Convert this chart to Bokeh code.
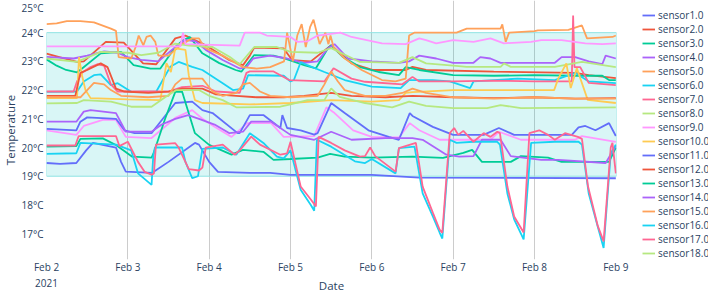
import math
from bokeh.plotting import figure
from bokeh.layouts import row
from bokeh.models import FixedTicker, Legend, LegendItem, Range1d
from bokeh.embed import file_html
from bokeh.resources import INLINE

# ---------------- data (hours since 2021-02-02 00:00, temperature in degC) -------------
SENSORS = ["sensor1.0", "sensor2.0", "sensor3.0", "sensor4.0", "sensor5.0", "sensor6.0",
           "sensor7.0", "sensor8.0", "sensor9.0", "sensor10.0", "sensor11.0", "sensor12.0",
           "sensor13.0", "sensor14.0", "sensor15.0", "sensor16.0", "sensor17.0", "sensor18.0"]

S1_H = [0, 4, 8.8, 11.7, 13.7, 20.5, 22, 23.4, 31.2, 36, 43.8, 45, 48, 50.6, 60, 66, 72, 96, 110, 168]
S1_T = [19.46, 19.43, 19.46, 19.9, 20.16, 20.0, 19.5, 19.16, 19.12, 19.5, 20.16, 20.1, 19.5, 19.15, 19.12, 19.12, 19.05, 19.05, 18.95, 18.93]

S2_H = [0, 9, 11, 17.5, 22.8, 28.5, 32.4, 38, 41, 47, 54, 58, 60, 61.3, 70, 72.5, 78, 84, 90, 96.4, 106, 108, 112, 132, 156, 160, 168]
S2_T = [23.27, 22.98, 23.0, 23.68, 23.65, 22.93, 22.9, 23.8, 23.9, 23.56, 23.04, 22.87, 23.2, 23.48, 23.45, 23.04, 23.0, 23.56, 22.93, 22.7, 22.7, 22.81, 22.7, 22.64, 22.6, 22.52, 22.42]

S3_H = [0, 3, 5.8, 9, 10.5, 16, 22, 25.7, 30.7, 33.6, 38, 40.3, 42.3, 46, 51, 55.8, 57.5, 61.3, 67, 70, 76, 79.5, 83, 84, 87.5, 92.5, 98, 104, 106, 110, 120, 132, 144, 156, 164, 166, 168]
S3_T = [23.07, 22.85, 22.7, 22.62, 22.75, 23.28, 23.33, 22.87, 22.75, 22.75, 23.5, 23.74, 23.85, 23.28, 22.94, 22.7, 22.64, 23.22, 23.2, 23.11, 22.87, 22.76, 23.45, 23.56, 23.15, 22.8, 22.63, 22.52, 22.8, 22.7, 22.52, 22.5, 22.52, 22.5, 22.5, 22.35, 22.35]

S4_H = [0, 8, 12, 17, 21, 24, 28, 33, 37, 41, 44, 47, 52, 57, 59, 61, 66, 71, 76, 80, 83, 85, 89, 96, 104, 107, 110, 115, 120, 126, 128, 131, 134, 144, 150, 152, 156, 160, 164, 165, 168]
S4_T = [23.16, 23.1, 23.2, 23.35, 23.3, 23.15, 23.05, 23.0, 23.4, 23.75, 23.7, 23.4, 23.05, 22.75, 22.8, 23.1, 23.2, 23.1, 22.95, 23.0, 23.45, 23.6, 23.1, 23.0, 22.95, 23.0, 23.2, 23.1, 22.95, 22.95, 23.15, 23.1, 22.95, 22.95, 22.95, 23.15, 23.15, 23.0, 22.9, 23.2, 23.1]

S5_H = [0, 3, 6, 10, 14, 19, 20.5, 21.3, 25, 26.3, 27.2, 28.6, 29.5, 30.7, 32.1, 33, 36, 38, 40, 43, 45, 46.5, 48, 52, 55, 58, 62, 66, 70.1, 71, 72.7, 74, 75.3, 76.5, 77.8, 78.8, 80.6, 82.3, 83.2, 83.8, 84.7, 88, 93, 99, 103, 106, 107, 108.5, 114, 121, 124, 134, 134.5, 135.5, 136.5, 144, 145, 154, 158, 159.5, 167, 168]
S5_T = [24.3, 24.32, 24.4, 24.4, 24.36, 24.14, 24.06, 23.15, 23.1, 23.5, 23.9, 23.56, 23.85, 23.9, 23.68, 23.2, 23.2, 23.4, 23.6, 23.8, 23.8, 23.5, 23.4, 23.2, 23.0, 22.8, 22.75, 22.8, 23.0, 24.0, 23.0, 23.9, 24.3, 23.5, 24.2, 24.45, 23.6, 24.0, 23.6, 23.9, 23.5, 23.1, 22.7, 22.35, 22.3, 22.4, 23.9, 24.0, 24.0, 24.0, 24.14, 24.14, 24.29, 23.68, 24.0, 24.05, 24.08, 24.1, 24.25, 23.8, 23.85, 23.9]

S6_H = [0, 9, 11, 14, 16, 19, 21, 25, 32.4, 36.5, 39, 43, 46, 52, 55, 58, 59.5, 70, 72, 73, 75, 77, 82, 88, 96, 104.5, 107, 114, 119, 125, 126, 139, 150, 156, 160, 168]
S6_T = [21.94, 21.95, 22.3, 22.52, 22.55, 22.17, 22.24, 21.94, 21.95, 22.81, 22.98, 22.81, 22.7, 22.24, 22.0, 22.05, 22.52, 22.5, 22.3, 22.35, 22.97, 22.87, 22.63, 22.35, 22.12, 22.07, 22.35, 22.35, 22.3, 22.07, 22.3, 22.4, 22.35, 22.6, 22.3, 22.24]

S7_H = [0, 8, 9, 10.5, 13, 15, 17, 19, 21, 36, 40, 46, 50, 57, 59, 60, 67, 71.6, 82, 84.7, 90, 94, 105, 108, 110, 120, 132, 144, 155, 155.4, 155.8, 157.5, 160, 168]
S7_T = [21.95, 21.95, 22.3, 22.6, 22.8, 22.9, 22.85, 22.2, 21.95, 21.95, 22.1, 22.15, 21.95, 21.9, 22.6, 22.65, 22.65, 22.35, 22.3, 22.76, 22.4, 22.29, 22.2, 22.46, 22.3, 22.3, 22.33, 22.3, 22.3, 24.6, 22.8, 22.8, 22.25, 22.17]

S8_H = [0, 9, 16, 24, 28, 33, 38, 42, 49, 54, 57, 61.3, 68, 72, 80, 84, 92.5, 104, 108, 112, 120, 124, 134, 135, 137, 150, 158, 168]
S8_T = [23.1, 22.98, 23.33, 23.3, 23.22, 23.3, 23.62, 23.55, 23.5, 23.16, 22.9, 23.5, 23.5, 23.33, 23.3, 23.46, 22.98, 22.95, 23.15, 22.93, 22.85, 22.81, 22.81, 22.93, 22.81, 22.81, 22.98, 22.8]

S9_H = [0, 39.5, 40.3, 41, 57, 58.5, 63, 65, 72, 74, 77, 80, 86.7, 90, 99, 106, 110, 112, 115, 120, 126, 131, 135, 143, 146, 152, 159, 164, 168]
S9_T = [23.52, 23.52, 24.0, 23.6, 23.55, 24.0, 24.0, 23.9, 23.85, 23.68, 23.7, 23.9, 24.0, 23.85, 23.63, 23.6, 23.8, 23.74, 23.63, 23.74, 23.68, 23.8, 23.63, 23.68, 23.74, 23.74, 23.63, 23.6, 23.63]

S9B_H = [0, 8.8, 11, 16.6, 20.5, 23.4, 31, 38, 43, 46, 49.6, 54.6, 59.3, 66.3, 70, 79, 82.6, 85, 90.5, 96, 104, 107.2, 110, 116, 131, 133.5, 140, 156, 158, 168]
S9B_T = [20.6, 20.44, 20.75, 20.96, 20.96, 20.37, 20.33, 21.03, 21.3, 21.0, 20.72, 20.37, 20.85, 20.85, 20.37, 20.4, 21.4, 21.2, 20.6, 20.37, 20.35, 20.85, 20.6, 20.27, 20.27, 20.55, 20.27, 20.27, 20.4, 20.2]

S10_H = [0, 9, 9.6, 10.5, 11.5, 13, 24, 33.6, 35.4, 36.7, 38, 41, 42, 43.8, 46, 60, 72, 84, 96, 104, 106, 108, 120, 132, 149.8, 151, 153.4, 154.7, 156.5, 159.7, 168]
S10_T = [21.72, 21.72, 23.15, 22.5, 22.0, 21.72, 21.68, 21.65, 22.94, 22.63, 23.45, 23.4, 22.5, 21.65, 21.55, 21.5, 21.55, 21.65, 21.6, 21.65, 21.9, 21.93, 22.0, 22.0, 22.0, 22.4, 22.93, 22.07, 22.76, 21.66, 21.55]

S11_H = [0, 8.8, 10, 12, 20.5, 23, 26, 31, 33, 38, 43, 46, 49, 56.4, 57, 60, 64, 69, 69.6, 71, 75, 79, 80, 84, 88, 95, 101, 104, 107.2, 108, 114, 120, 129, 133.5, 138, 155, 157, 159, 162, 166, 168]
S11_T = [20.65, 20.6, 20.9, 21.05, 21.0, 20.6, 20.5, 20.5, 20.8, 21.55, 21.6, 21.3, 21.2, 20.5, 20.5, 21.13, 21.13, 20.68, 21.13, 20.68, 20.6, 20.45, 20.5, 21.55, 21.2, 20.6, 20.37, 20.27, 21.2, 21.1, 20.72, 20.44, 20.44, 20.68, 20.44, 20.44, 20.7, 20.75, 20.6, 20.85, 20.4]

S12_H = [0, 8.5, 10, 12, 16, 18, 20.5, 23, 30, 36, 40, 46, 50, 56, 62, 70, 76, 84, 90, 100, 108, 120, 132, 144, 156, 168]
S12_T = [21.8, 21.8, 22.6, 22.7, 22.93, 22.8, 22.05, 21.95, 21.9, 21.95, 22.05, 22.05, 21.85, 21.8, 21.75, 21.75, 21.8, 21.9, 21.8, 21.75, 21.8, 21.75, 21.72, 21.75, 21.7, 21.72]

S13_H = [0, 8.8, 10, 16.6, 20.5, 25.3, 31, 31.6, 35, 38, 40, 43.8, 48, 54.6, 58, 64, 67, 72, 80, 83.7, 88, 96, 108, 117, 123, 125.6, 128.5, 137, 140, 148, 152, 166, 168]
S13_T = [20.03, 20.05, 20.3, 20.32, 20.09, 19.68, 19.65, 19.8, 21.0, 21.94, 21.95, 20.5, 20.09, 19.75, 19.92, 19.85, 19.57, 19.6, 19.65, 19.78, 19.68, 19.65, 19.68, 19.64, 19.81, 19.92, 19.5, 19.5, 19.7, 19.65, 19.5, 19.5, 20.0]

S14_H = [0, 8.8, 11, 13, 20.5, 23.4, 31, 34, 38, 41.8, 45, 49.6, 54, 58, 60.4, 66.3, 72, 79, 84, 90, 100, 108, 111, 118, 121.8, 126, 128.5, 134, 137, 146, 151, 165, 168]
S14_T = [20.9, 20.9, 21.25, 21.3, 21.2, 20.55, 20.55, 20.8, 21.0, 21.13, 21.0, 20.8, 20.5, 20.55, 20.9, 20.9, 20.44, 20.27, 20.55, 20.27, 20.33, 20.33, 20.27, 19.75, 19.68, 19.7, 20.27, 20.27, 19.7, 19.57, 19.57, 19.46, 20.05]

S15_H = [0, 10, 12, 14, 17, 19, 22, 30, 36, 38, 40, 46, 49, 52, 56, 58, 60, 63, 66, 72, 80, 82, 84, 86, 88, 94, 100, 105, 108, 112, 120, 132, 144, 156, 168]
S15_T = [21.75, 21.75, 22.0, 22.25, 22.2, 22.0, 21.8, 21.75, 21.8, 22.2, 22.4, 22.4, 21.95, 21.8, 21.9, 22.2, 22.25, 21.95, 21.8, 21.75, 21.8, 22.2, 22.65, 22.3, 22.0, 21.8, 21.8, 21.9, 22.05, 21.9, 21.75, 21.7, 21.75, 21.7, 21.7]

S16_H = [0, 8.8, 10, 20.5, 25, 27, 31, 31.5, 32, 36, 40, 41, 43, 44.7, 46, 52, 56, 60, 64, 68, 70, 72, 75, 78, 79, 79.8, 84, 91, 94, 96, 103, 104, 108.6, 111, 114, 116, 116.8, 119, 121, 126, 133, 133.8, 136, 138, 140.8, 143, 150, 157, 158, 160, 163, 164.4, 166.5, 168]
S16_T = [19.78, 19.8, 20.16, 20.1, 19.9, 19.1, 18.7, 19.7, 20.0, 20.0, 20.0, 19.5, 18.93, 19.0, 19.95, 20.0, 19.75, 20.5, 20.16, 19.68, 19.62, 19.9, 18.53, 18.0, 17.8, 20.27, 20.03, 19.52, 19.46, 19.6, 19.1, 19.98, 20.03, 18.4, 17.6, 17.04, 16.83, 20.27, 20.16, 20.2, 20.2, 20.1, 18.4, 17.5, 16.8, 20.16, 20.2, 20.2, 20.1, 18.4, 17.1, 16.5, 19.8, 20.1]

S17_H = [0, 8.5, 9.5, 20.5, 21.5, 24, 27, 29, 31, 31.7, 32.3, 38, 39, 42, 45, 46, 47, 52, 55.5, 57, 60.4, 63, 69, 71, 72, 75, 78, 79.5, 80.3, 84, 88, 92.5, 94, 95.5, 97, 103, 104, 109, 111, 114, 116, 116.8, 119, 120.3, 121.5, 123, 126, 129, 131, 133, 133.8, 136, 138, 140.8, 142.5, 145.4, 148, 150, 153, 156.8, 158, 159.8, 162.7, 164.4, 166.5, 167, 168]
S17_T = [20.07, 20.07, 20.4, 20.4, 20.05, 20.2, 19.5, 19.15, 19.05, 19.1, 20.1, 20.15, 20.0, 19.25, 19.2, 19.3, 20.0, 20.1, 19.75, 19.9, 20.38, 20.1, 19.75, 19.8, 20.2, 18.64, 18.19, 17.95, 20.37, 20.16, 19.9, 19.68, 19.7, 20.0, 19.7, 19.16, 19.98, 20.16, 18.64, 17.73, 17.14, 17.03, 20.5, 20.68, 20.44, 20.58, 20.2, 20.5, 20.37, 20.55, 20.5, 18.64, 17.6, 17.04, 20.5, 20.6, 20.44, 20.27, 20.5, 20.37, 20.3, 18.64, 17.26, 16.73, 20.0, 20.16, 19.1]

S18_H = [0, 9, 11, 19, 25, 31, 35, 38.3, 45, 48, 52, 56, 69, 72, 77, 82, 84, 86.5, 94, 102, 107, 112, 120, 130, 134, 140, 168]
S18_T = [21.54, 21.55, 21.65, 21.6, 21.42, 21.42, 21.75, 22.0, 22.0, 21.8, 21.65, 21.4, 21.42, 21.5, 21.65, 21.65, 22.06, 21.76, 21.55, 21.4, 21.6, 21.45, 21.37, 21.37, 21.48, 21.37, 21.4]

HOURS = [S1_H, S2_H, S3_H, S4_H, S5_H, S6_H, S7_H, S8_H, S9_H, S10_H,
         S11_H, S12_H, S13_H, S14_H, S15_H, S16_H, S17_H, S18_H]
TEMPS = [S1_T, S2_T, S3_T, S4_T, S5_T, S6_T, S7_T, S8_T, S9_T, S10_T,
         S11_T, S12_T, S13_T, S14_T, S15_T, S16_T, S17_T, S18_T]

COLORS = ["#636EFA", "#EF553B", "#00CC96", "#AB63FA", "#FFA15A",
          "#19D3F3", "#FF6692", "#B6E880", "#FF97FF", "#FECB52"]

TICK_HOURS = [0, 24, 48, 72, 96, 120, 144, 168]
TICK_LABELS = ["Feb 2\n2021", "Feb 3", "Feb 4", "Feb 5", "Feb 6", "Feb 7", "Feb 8", "Feb 9"]
Y_TICKS = [17, 18, 19, 20, 21, 22, 23, 24, 25]
Y_LABELS = ["17°C", "18°C", "19°C", "20°C", "21°C", "22°C", "23°C", "24°C", "25°C"]
BAND_LOW, BAND_HIGH = 19, 24
X_END = 168.2
Y_MIN, Y_MAX = 16.10, 25.12

FONT = "Open Sans"
TXT = "#2a3f5f"
LW = 1.8

p = figure(width=634, height=296, output_backend="svg", toolbar_location=None,
           x_range=Range1d(0, X_END), y_range=Range1d(Y_MIN, Y_MAX),
           min_border_left=40, min_border_right=18, min_border_top=0, min_border_bottom=36)
p.outline_line_color = None
p.background_fill_color = "white"
p.border_fill_color = "white"

p.quad(left=[0], right=[X_END], bottom=[BAND_LOW], top=[BAND_HIGH],
       fill_color="#00C0C0", fill_alpha=0.15, line_color="#8FE3E3", line_width=1)

for i in range(18):
    p.line(HOURS[i], TEMPS[i], line_color=COLORS[i % 10], line_width=LW)
    if i == 8:
        p.line(S9B_H, S9B_T, line_color=COLORS[8], line_width=LW)

p.xaxis.ticker = FixedTicker(ticks=TICK_HOURS)
p.xaxis.major_label_overrides = dict(zip(TICK_HOURS, TICK_LABELS))
p.yaxis.ticker = FixedTicker(ticks=Y_TICKS)
p.yaxis.major_label_overrides = dict(zip(Y_TICKS, Y_LABELS))
for ax in (p.xaxis, p.yaxis):
    ax.axis_line_color = None
    ax.major_tick_line_color = None
    ax.minor_tick_line_color = None
    ax.major_tick_out = 0
    ax.major_tick_in = 0
    ax.major_label_text_font = FONT
    ax.major_label_text_font_size = "10px"
    ax.major_label_text_color = TXT
    ax.axis_label_text_font = FONT
    ax.axis_label_text_font_size = "11.5px"
    ax.axis_label_text_font_style = "normal"
    ax.axis_label_text_color = TXT
p.xaxis.major_label_standoff = 0
p.yaxis.major_label_standoff = 3
p.xaxis.axis_label = "Date"
p.yaxis.axis_label = "Temperature"
p.xaxis.axis_label_standoff = -15
p.yaxis.axis_label_standoff = 0

p.xgrid.ticker = FixedTicker(ticks=TICK_HOURS[1:-1])
p.xgrid.grid_line_color = "#CCCCCC"
p.xgrid.grid_line_width = 1
p.ygrid.grid_line_color = None

# ---------------- legend panel (second figure to the right) ----------------
lg = figure(width=74, height=296, output_backend="svg", toolbar_location=None,
            x_range=Range1d(0, 1), y_range=Range1d(0, 1),
            min_border_left=0, min_border_right=0, min_border_top=0, min_border_bottom=0)
lg.axis.visible = False
lg.grid.visible = False
lg.outline_line_color = None
lg.background_fill_color = "white"
lg.border_fill_color = "white"
keys = [lg.line(x=[5, 6], y=[5, 6], line_color=COLORS[i % 10], line_width=LW) for i in range(18)]
legend = Legend(items=[LegendItem(label=SENSORS[i], renderers=[keys[i]]) for i in range(18)],
                location="top_left", orientation="vertical", padding=0, margin=8, spacing=0,
                glyph_width=13, glyph_height=14, label_height=14, label_standoff=3,
                label_text_font=FONT, label_text_font_size="10px", label_text_color=TXT,
                border_line_color=None, background_fill_alpha=0)
lg.add_layout(legend)

layout = row(p, lg, spacing=0)
open("out.html", "w").write(file_html(layout, INLINE))
